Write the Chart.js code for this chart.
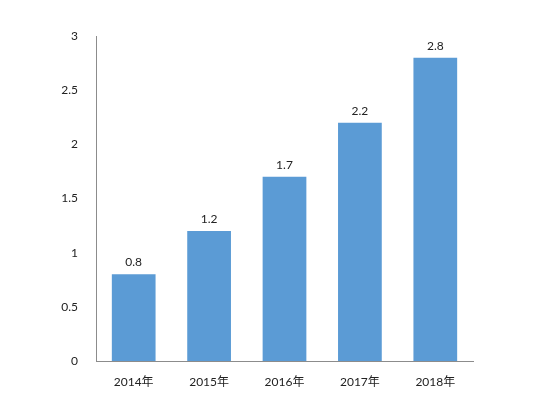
<!DOCTYPE html>
<html>
<head>
<meta charset="utf-8">
<script src="https://cdn.jsdelivr.net/npm/chart.js@4/dist/chart.umd.min.js"></script>
<style>
  html, body { margin: 0; padding: 0; background: #fff; }
  #wrap { width: 559px; height: 402px; position: relative; }
</style>
</head>
<body>
<div id="wrap"><canvas id="grafico"></canvas></div>
<script>
const categories = ["2014年", "2015年", "2016年", "2017年", "2018年"];
const values = [0.8, 1.2, 1.7, 2.2, 2.8];
const yTicks = [0, 0.5, 1, 1.5, 2, 2.5, 3];

const fontFamily = "Lato, 'Open Sans', 'Noto Sans CJK SC', sans-serif";

// etiquetas de valor encima de cada barra
const valueLabels = {
  id: "valueLabels",
  afterDatasetsDraw(chart) {
    const ctx = chart.ctx;
    ctx.save();
    ctx.font = "12px " + fontFamily;
    ctx.fillStyle = "#222";
    ctx.textAlign = "center";
    ctx.textBaseline = "bottom";
    chart.getDatasetMeta(0).data.forEach((bar, i) => {
      ctx.fillText(String(values[i]), bar.x, bar.y - 6);
    });
    ctx.restore();
  },
};

new Chart(document.getElementById("grafico"), {
  type: "bar",
  data: {
    labels: categories,
    datasets: [
      {
        data: values,
        backgroundColor: "#5B9BD5",
        borderWidth: 0,
        categoryPercentage: 0.58,
        barPercentage: 1,
      },
    ],
  },
  options: {
    responsive: true,
    maintainAspectRatio: false,
    animation: false,
    layout: { padding: { left: 0, right: 86, top: 36, bottom: 0 } },
    plugins: { legend: { display: false }, tooltip: { enabled: false } },
    scales: {
      x: {
        grid: { display: false },
        border: { color: "#8c8c8c", width: 1 },
        ticks: { color: "#222", font: { size: 12, family: fontFamily }, padding: 6 },
        afterFit: (s) => { s.height = 41; },
      },
      y: {
        min: 0,
        max: 3,
        afterBuildTicks: (s) => { s.ticks = yTicks.map((v) => ({ value: v })); },
        grid: { display: false },
        border: { color: "#8c8c8c", width: 1 },
        ticks: {
          color: "#222",
          font: { size: 12, family: fontFamily },
          padding: 10,
          callback: (v) => String(v),
        },
        afterFit: (s) => { s.width = 96; },
      },
    },
  },
  plugins: [valueLabels],
});
</script>
</body>
</html>
